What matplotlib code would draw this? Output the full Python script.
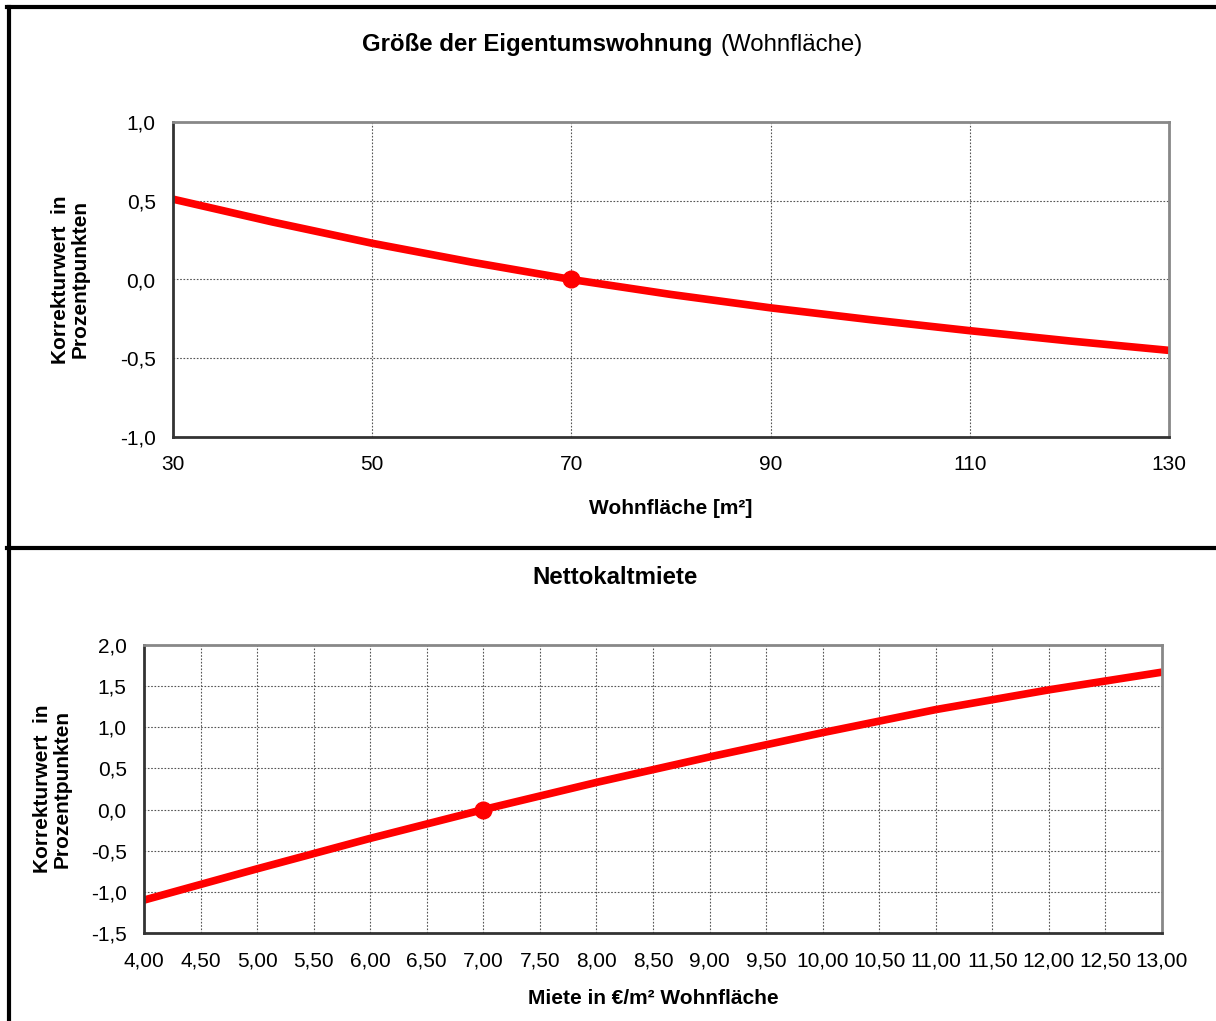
import matplotlib.pyplot as plt
from matplotlib.lines import Line2D

plt.rcParams['font.family'] = ['Liberation Sans', 'DejaVu Sans']

# top panel: Wohnfläche
area_x = [30, 40, 50, 60, 70, 80, 90, 100, 110, 120, 130]
area_y = [0.51, 0.365, 0.23, 0.11, 0.0, -0.095, -0.18, -0.255, -0.325, -0.39, -0.45]
area_ref = (70, 0.0)
area_xticks = [30, 50, 70, 90, 110, 130]
area_yticks = [-1.0, -0.5, 0.0, 0.5, 1.0]

# bottom panel: Nettokaltmiete
rent_x = [4, 5, 6, 7, 8, 9, 10, 11, 12, 13]
rent_y = [-1.10, -0.72, -0.35, 0.0, 0.33, 0.64, 0.935, 1.215, 1.455, 1.67]
rent_ref = (7, 0.0)
rent_xticks = [4 + 0.5 * i for i in range(19)]
rent_yticks = [-1.5, -1.0, -0.5, 0.0, 0.5, 1.0, 1.5, 2.0]

W, H = 1216, 1021
fig = plt.figure(figsize=(W / 100, H / 100), dpi=100)


def px_axes(l, t, r, b):
    return fig.add_axes([l / W, 1 - b / H, (r - l) / W, (b - t) / H])


def comma(v, nd):
    return f"{v:.{nd}f}".replace('.', ',')


def style(ax, xticks, yticks, xnd, ynd):
    ax.set_xticks(xticks)
    ax.set_yticks(yticks)
    ax.set_xticklabels([comma(v, xnd) for v in xticks], fontsize=15)
    ax.set_yticklabels([comma(v, ynd) for v in yticks], fontsize=15)
    ax.tick_params(axis='x', length=0, pad=13)
    ax.tick_params(axis='y', length=0, pad=12.5)
    ax.grid(True, linestyle=(0, (1.5, 1.5)), color='#555555', linewidth=0.8)
    for s in ['top', 'right']:
        ax.spines[s].set_color('#888888')
        ax.spines[s].set_linewidth(2)
    for s in ['left', 'bottom']:
        ax.spines[s].set_color('#333333')
        ax.spines[s].set_linewidth(2)
    ax.set_axisbelow(True)


ylab = "Korrekturwert  in\nProzentpunkten"

ax1 = px_axes(173, 122, 1169, 437)
ax1.plot(area_x, area_y, color='#ff0000', linewidth=5.5, solid_capstyle='butt')
ax1.plot(*area_ref, 'o', color='#ff0000', markersize=12)
ax1.set_xlim(30, 130)
ax1.set_ylim(-1, 1)
style(ax1, area_xticks, area_yticks, 0, 1)
ax1.set_xlabel("Wohnfläche [m²]", fontsize=15, fontweight='bold', labelpad=18)
ax1.set_ylabel(ylab, fontsize=15, fontweight='bold', labelpad=22, linespacing=1.0)

ax2 = px_axes(144, 645, 1162, 933)
ax2.plot(rent_x, rent_y, color='#ff0000', linewidth=5.5, solid_capstyle='butt')
ax2.plot(*rent_ref, 'o', color='#ff0000', markersize=12)
ax2.set_xlim(4, 13)
ax2.set_ylim(-1.5, 2)
style(ax2, rent_xticks, rent_yticks, 2, 1)
ax2.set_xlabel("Miete in €/m² Wohnfläche", fontsize=15, fontweight='bold', labelpad=14)
ax2.set_ylabel(ylab, fontsize=15, fontweight='bold', labelpad=14, linespacing=1.0)

# titles
fig.text(712 / W, 1 - 45 / H, "Größe der Eigentumswohnung", ha='right', va='center',
         fontsize=17.3, fontweight='bold')
fig.text(720 / W, 1 - 45 / H, "(Wohnfläche)", ha='left', va='center', fontsize=17.3)
fig.text(615 / W, 1 - 577 / H, "Nettokaltmiete", ha='center', va='center',
         fontsize=17.3, fontweight='bold')

# frame lines
lw = 3
fig.add_artist(Line2D([8.5 / W, 8.5 / W], [0, 1 - 7.5 / H], color='black', linewidth=lw))
fig.add_artist(Line2D([7 / W, 1], [1 - 7.5 / H, 1 - 7.5 / H], color='black', linewidth=lw))
fig.add_artist(Line2D([7 / W, 1], [1 - 548.5 / H, 1 - 548.5 / H], color='black', linewidth=lw))

fig.savefig("out.png", dpi=100)
